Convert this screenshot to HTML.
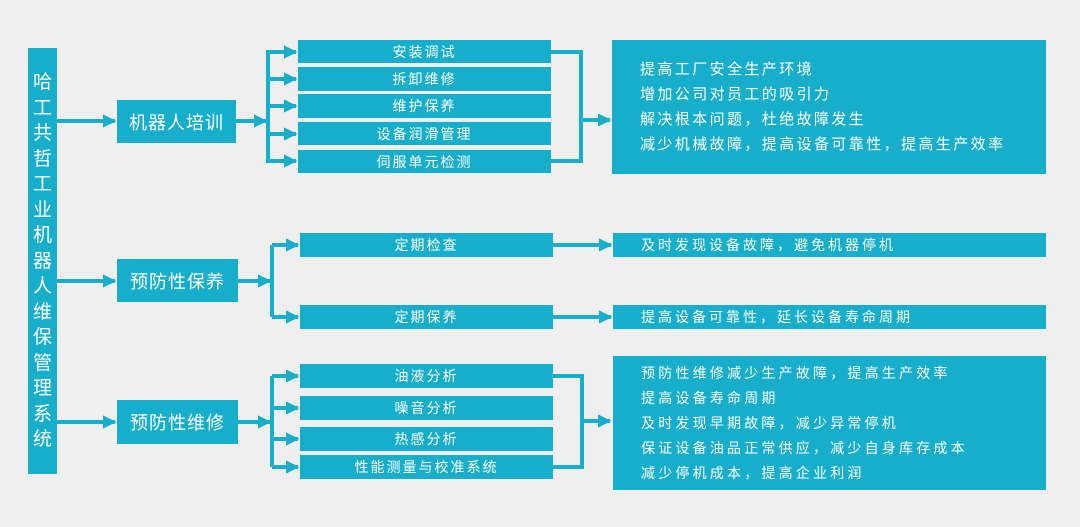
<!DOCTYPE html>
<html><head><meta charset="utf-8"><style>
body{margin:0;width:1080px;height:527px;background:#efefef;position:relative;overflow:hidden;font-family:"Liberation Sans","Noto Sans CJK SC",sans-serif;}
.b{position:absolute;background:#17aecb;color:#fff;}
.c{display:flex;align-items:center;justify-content:center;font-size:14px;letter-spacing:2px;}
.t{font-size:15px;letter-spacing:2.4px;line-height:25px;padding-left:28px;box-sizing:border-box;}
svg{position:absolute;left:0;top:0}
</style></head><body>
<svg width="1080" height="527">
<defs><marker id="a" viewBox="0 0 10 10" refX="9" refY="5" markerWidth="3.4" markerHeight="3.4" orient="auto"><path d="M0,0L10,5L0,10z" fill="#17aecb"/></marker></defs>
<g stroke="#17aecb" stroke-width="4" fill="none">
<line x1="57" y1="121" x2="115" y2="121" marker-end="url(#a)"/>
<line x1="57" y1="281" x2="115" y2="281" marker-end="url(#a)"/>
<line x1="57" y1="422" x2="115" y2="422" marker-end="url(#a)"/>
<line x1="236" y1="121" x2="266" y2="121" marker-end="url(#a)"/>
<polyline points="296,52 268,52 268,161 296,161"/>
<line x1="268" y1="79" x2="296" y2="79" marker-end="url(#a)"/>
<line x1="268" y1="106" x2="296" y2="106" marker-end="url(#a)"/>
<line x1="268" y1="134" x2="296" y2="134" marker-end="url(#a)"/>
<line x1="268" y1="52" x2="296" y2="52" marker-end="url(#a)"/>
<line x1="268" y1="161" x2="296" y2="161" marker-end="url(#a)"/>
<polyline points="551,52 581,52 581,161 551,161"/>
<line x1="581" y1="120" x2="610" y2="120" marker-end="url(#a)"/>
<line x1="238" y1="281" x2="270" y2="281" marker-end="url(#a)"/>
<polyline points="272,245 272,317"/>
<line x1="272" y1="245" x2="298" y2="245" marker-end="url(#a)"/>
<line x1="272" y1="317" x2="298" y2="317" marker-end="url(#a)"/>
<line x1="553" y1="245" x2="611" y2="245" marker-end="url(#a)"/>
<line x1="553" y1="317" x2="611" y2="317" marker-end="url(#a)"/>
<line x1="238" y1="422" x2="270" y2="422" marker-end="url(#a)"/>
<polyline points="272,376 272,467"/>
<line x1="272" y1="376" x2="298" y2="376" marker-end="url(#a)"/>
<line x1="272" y1="408" x2="298" y2="408" marker-end="url(#a)"/>
<line x1="272" y1="439" x2="298" y2="439" marker-end="url(#a)"/>
<line x1="272" y1="467" x2="298" y2="467" marker-end="url(#a)"/>
<polyline points="553,376 582,376 582,467 553,467"/>
<line x1="582" y1="421" x2="610" y2="421" marker-end="url(#a)"/>
</g></svg>
<div class="b" style="left:28px;top:48px;width:29px;height:426px;font-size:19px;line-height:25.5px;text-align:center;box-sizing:border-box;padding:22px 5px 0 5px;word-break:break-all;">哈工共哲工业机器人维保管理系统</div>
<div class="b c" style="left:117px;top:100px;width:119px;height:43px;font-size:18px;letter-spacing:1px">机器人培训</div>
<div class="b c" style="left:117px;top:259px;width:121px;height:43px;font-size:18px;letter-spacing:1px">预防性保养</div>
<div class="b c" style="left:117px;top:400px;width:121px;height:44px;font-size:18px;letter-spacing:1px">预防性维修</div>
<div class="b c" style="left:298px;top:40px;width:253px;height:23px">安装调试</div>
<div class="b c" style="left:298px;top:67px;width:253px;height:24px">拆卸维修</div>
<div class="b c" style="left:298px;top:94px;width:253px;height:24px">维护保养</div>
<div class="b c" style="left:298px;top:122px;width:253px;height:23px">设备润滑管理</div>
<div class="b c" style="left:298px;top:150px;width:253px;height:23px">伺服单元检测</div>
<div class="b t" style="left:612px;top:40px;width:434px;height:134px;padding-top:17px">提高工厂安全生产环境<br>增加公司对员工的吸引力<br>解决根本问题，杜绝故障发生<br>减少机械故障，提高设备可靠性，提高生产效率</div>
<div class="b c" style="left:300px;top:233px;width:253px;height:24px">定期检查</div>
<div class="b c" style="left:300px;top:305px;width:253px;height:24px">定期保养</div>
<div class="b t" style="left:613px;top:233px;width:433px;height:24px;line-height:24px;font-size:14px;letter-spacing:3px">及时发现设备故障，避免机器停机</div>
<div class="b t" style="left:613px;top:305px;width:433px;height:24px;line-height:24px;font-size:14px;letter-spacing:3px">提高设备可靠性，延长设备寿命周期</div>
<div class="b c" style="left:300px;top:364px;width:253px;height:24px">油液分析</div>
<div class="b c" style="left:300px;top:396px;width:253px;height:24px">噪音分析</div>
<div class="b c" style="left:300px;top:427px;width:253px;height:24px">热感分析</div>
<div class="b c" style="left:300px;top:455px;width:253px;height:24px">性能测量与校准系统</div>
<div class="b t" style="left:613px;top:356px;width:433px;height:134px;padding-top:5px;font-size:14px;letter-spacing:3.2px;line-height:25px">预防性维修减少生产故障，提高生产效率<br>提高设备寿命周期<br>及时发现早期故障，减少异常停机<br>保证设备油品正常供应，减少自身库存成本<br>减少停机成本，提高企业利润</div>
</body></html>
